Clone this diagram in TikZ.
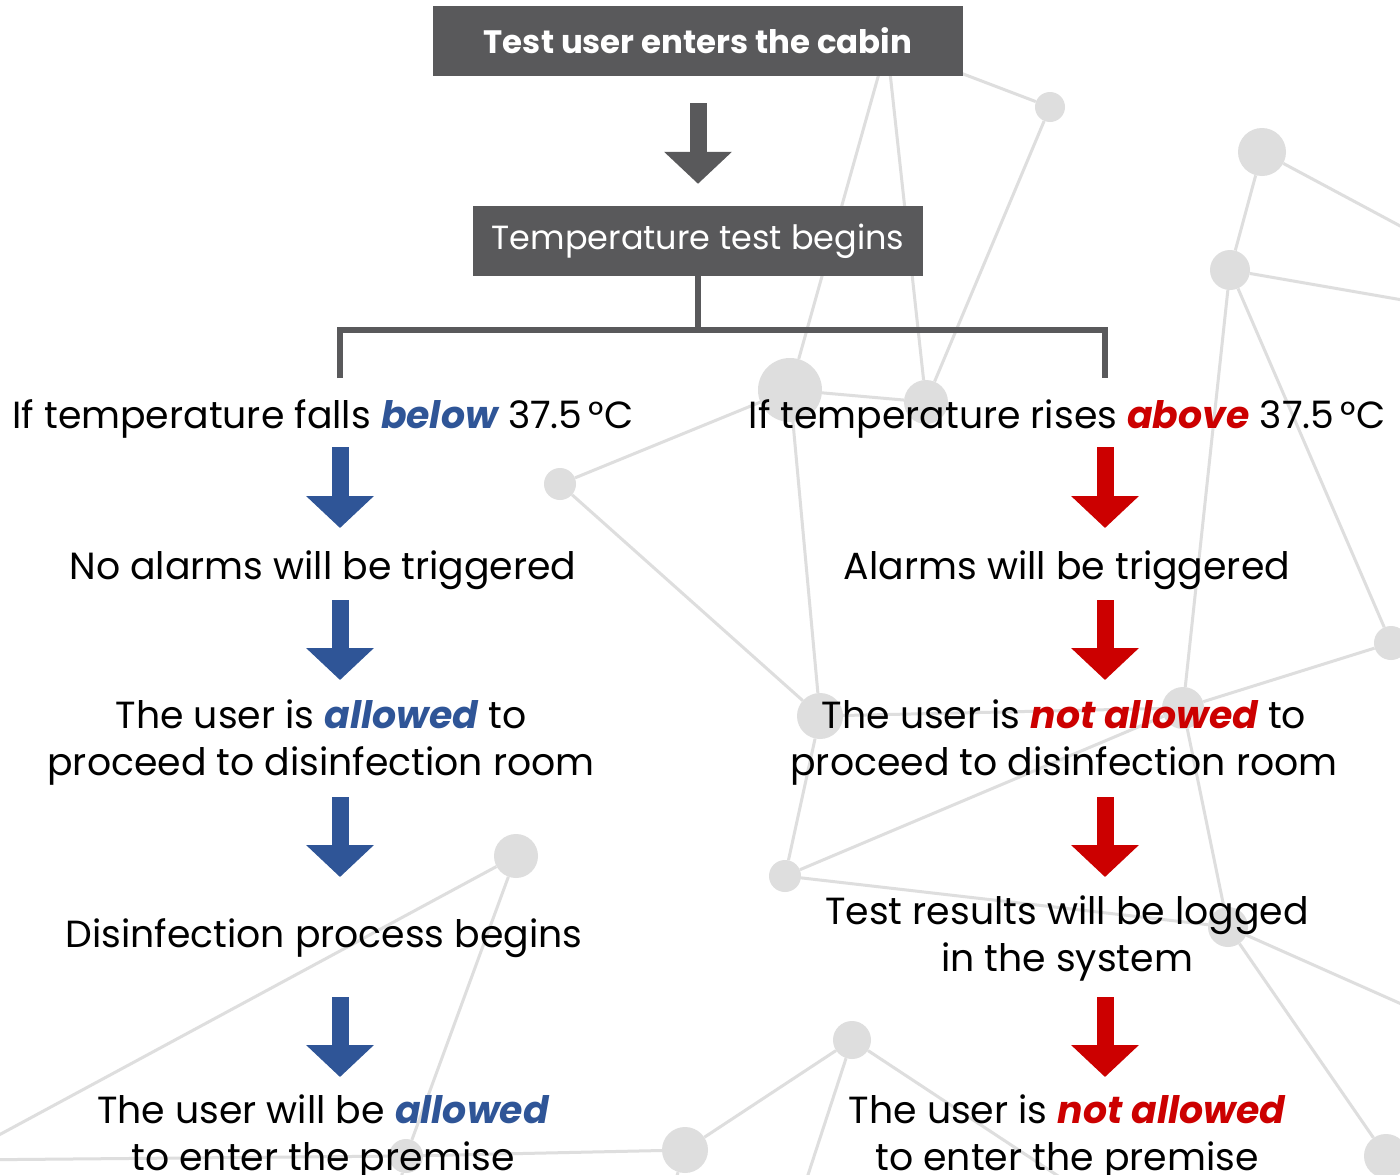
\documentclass[tikz,border=0pt]{standalone}
\usepackage{fontspec}
\setmainfont{Poppins}
\usetikzlibrary{arrows.meta,positioning}

\definecolor{boxgray}{HTML}{59595B}
\definecolor{netgray}{HTML}{DEDEDE}
\definecolor{passblue}{HTML}{2F5597}
\definecolor{failred}{HTML}{CC0000}

\tikzset
{
    netdot/.style     = {circle, fill=netgray, inner sep=0pt, minimum size=#1},
    netline/.style    = {draw=netgray, line width=3pt},
    titlebox/.style   = {rectangle, fill=boxgray, text=white, inner sep=0pt, minimum height=70pt},
    steptext/.style   = {align=center, inner sep=0pt, font=\fontsize{37.8}{47}\selectfont},
    blockarrow/.style = {line width=17pt, -{Triangle[length=32pt 0, width=66pt 0]}},
    grayarrow/.style  = {blockarrow, draw=boxgray},
    bluearrow/.style  = {blockarrow, draw=passblue},
    redarrow/.style   = {blockarrow, draw=failred},
    forkline/.style   = {draw=boxgray, line width=6pt}
}

\newcommand{\bluebold}[1]{\textcolor{passblue}{\bfseries\itshape #1}}
\newcommand{\redbold}[1]{\textcolor{failred}{\bfseries\itshape #1}}

\begin{document}
\begin{tikzpicture}[x=1pt, y=-1pt]
\useasboundingbox[fill=white] (0,0) rectangle (1400,1175);

% background network
\node[netdot=30pt] (q) at (887,45) {};
\node[netdot=30pt] (a) at (1050,107) {};
\node[netdot=48pt] (b) at (1262,152) {};
\node[netdot=40pt] (c) at (1230,270) {};
\node[netdot=64pt] (d) at (790,390) {};
\node[netdot=44pt] (e) at (926,402) {};
\node[netdot=32pt] (f) at (560,484) {};
\node[netdot=34pt] (g) at (1391,643) {};
\node[netdot=46pt] (h) at (820,716) {};
\node[netdot=42pt] (i) at (1183,708) {};
\node[netdot=32pt] (j) at (785,876) {};
\node[netdot=44pt] (k) at (516,856) {};
\node[netdot=40pt] (l) at (1228,927) {};
\node[netdot=38pt] (m) at (852,1040) {};
\node[netdot=46pt] (n) at (685,1150) {};
\node[netdot=44pt] (o) at (1386,1156) {};
\node[netdot=34pt] (p) at (406,1156) {};
\coordinate (o1) at (1460,258);
\coordinate (o2) at (1460,310);
\coordinate (o3) at (1460,1030);
\coordinate (o4) at (-40,1156);
\coordinate (o5) at (-40,1160);
\coordinate (o6) at (790,1230);
\coordinate (o7) at (1140,1230);
\coordinate (o8) at (660,1230);
\coordinate (o9) at (390,1230);
\foreach \u/\v in {q/d, q/e, q/a, a/e, d/e, d/f, d/h, f/h, h/j, h/i, j/i, i/g, c/i, c/g,
                   b/c, b/o1, c/o2, i/l, j/l, l/o, l/o3, k/p, k/o4, p/o5, p/n, m/n,
                   m/o6, m/o7, n/o8, p/o9}
    \draw[netline] (\u) -- (\v);

% flow
\node[titlebox, minimum width=530pt, font=\bfseries\fontsize{32.4}{38}\selectfont] (enter) at (698,41) {Test user enters the cabin};
\node[titlebox, minimum width=450pt, font=\fontsize{33.5}{38}\selectfont] (test) at (698,241) {Temperature test begins};
\draw[grayarrow, shorten <=27pt, shorten >=22pt] (enter.south) -- (test.north);

\coordinate (lcol) at (340,0);
\coordinate (rcol) at (1105,0);
\coordinate (lfork) at (340,378);
\coordinate (rfork) at (1105,378);
\draw[forkline] (test.south) -- ++(0,54) coordinate (forkmid);
\draw[forkline] (lfork) |- (forkmid) -| (rfork);

\node[steptext] (lt1) at (323,419) {If temperature falls \bluebold{below} 37.5\,°C};
\node[steptext] (lt2) at (323,570) {No alarms will be triggered};
\node[steptext] (lt3) at (321,743) {The user is \bluebold{allowed} to\\proceed to disinfection room};
\node[steptext] (lt4) at (324,938) {Disinfection process begins};
\node[steptext] (lt5) at (323,1138) {The user will be \bluebold{allowed}\\to enter the premise};

\node[steptext] (rt1) at (1067,419) {If temperature rises \redbold{above} 37.5\,°C};
\node[steptext] (rt2) at (1067,570) {Alarms will be triggered};
\node[steptext] (rt3) at (1064,743) {The user is \redbold{not allowed} to\\proceed to disinfection room};
\node[steptext] (rt4) at (1067,938) {Test results will be logged\\in the system};
\node[steptext] (rt5) at (1067,1138) {The user is \redbold{not allowed}\\to enter the premise};

\foreach \i/\j/\p/\q in {1/2/28/42, 2/3/30/63, 3/4/54/61, 4/5/59/61}
{
    \draw[bluearrow, shorten <=\p pt, shorten >=\q pt] (lt\i -| lcol) -- (lt\j -| lcol);
    \draw[redarrow, shorten <=\p pt, shorten >=\q pt] (rt\i -| rcol) -- (rt\j -| rcol);
}
\end{tikzpicture}
\end{document}
